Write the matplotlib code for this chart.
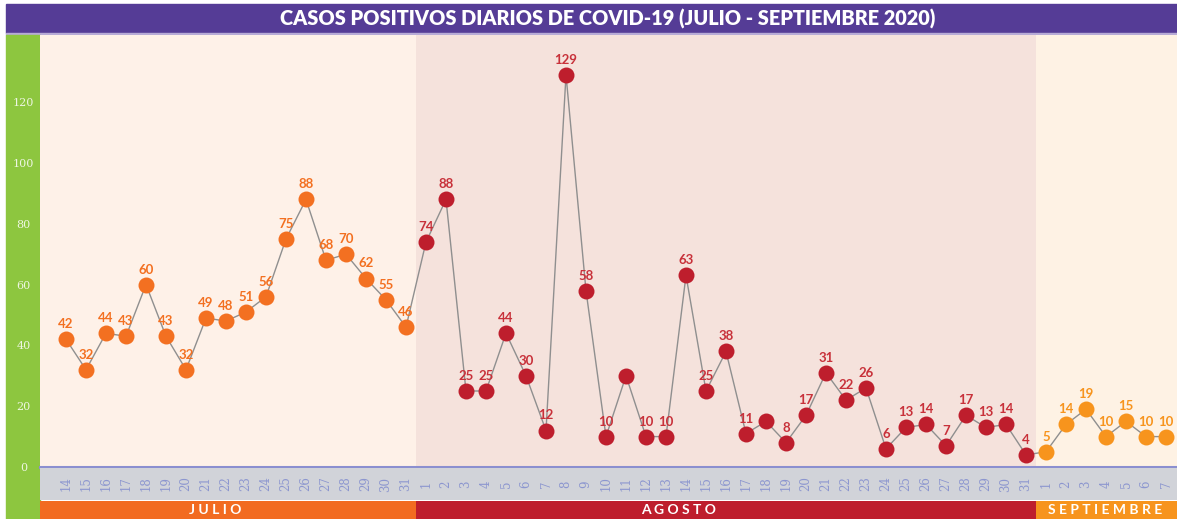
import matplotlib as mpl
from matplotlib import pyplot as plt
from matplotlib.patches import Rectangle

# daily positive cases
jul_days = list(range(14, 32))
jul_vals = [42, 32, 44, 43, 60, 43, 32, 49, 48, 51, 56, 75, 88, 68, 70, 62, 55, 46]
aug_days = list(range(1, 32))
aug_vals = [74, 88, 25, 25, 44, 30, 12, 129, 58, 10, 30, 10, 10, 63, 25, 38,
            11, 15, 8, 17, 31, 22, 26, 6, 13, 14, 7, 17, 13, 14, 4]
sep_days = list(range(1, 8))
sep_vals = [5, 14, 19, 10, 15, 10, 10]
# days in august drawn without a number
aug_unlabeled = [11, 18]

months = ['JULIO', 'AGOSTO', 'SEPTIEMBRE']
title = 'CASOS POSITIVOS DIARIOS DE COVID-19 (JULIO - SEPTIEMBRE 2020)'
yticks = [0, 20, 40, 60, 80, 100, 120]

# colours
c_title = '#553C96'
c_green = '#8DC63F'
c_gray = '#D1D3D9'
c_tick = '#8C96CF'
c_axis = '#8B8FD0'
c_line = '#8F8F8F'
pt_colors = ['#F37021', '#BE1E2D', '#F7941D']
lb_colors = ['#F37021', '#C8313A', '#F7941D']
bg_colors = ['#FEF1E8', '#F5E2DC', '#FEF2E4']
band_colors = ['#F26B21', '#BE1E2D', '#F7941D']

W, H = 1177, 519
dpi = 100

#####
# build positions
groups = [(jul_days, jul_vals), (aug_days, aug_vals), (sep_days, sep_vals)]
xs, ys, days, grp = [], [], [], []
i = 0
for g, (d, v) in enumerate(groups):
    for dd, vv in zip(d, v):
        xs.append(i)
        ys.append(vv)
        days.append(dd)
        grp.append(g)
        i += 1
n = len(xs)
bounds = [-1.3, len(jul_days) - 0.5, len(jul_days) + len(aug_days) - 0.5, n - 0.45]
# where the month names sit (the originals are not centred in their bands)
month_pos = [7.45, 30.65, 51.95]

fig = plt.figure(figsize=(W / dpi, H / dpi), dpi=dpi)
fig.patch.set_facecolor('white')

# title bar and green strip
fig.patches.append(Rectangle((6 / W, 1 - 33 / H), 1 - 6 / W, 29 / H,
                             transform=fig.transFigure, color=c_title, zorder=-1))
fig.patches.append(Rectangle((6 / W, 1 - 35 / H), 1 - 6 / W, 2 / H,
                             transform=fig.transFigure, color='#B7ABD6', zorder=-1))
fig.patches.append(Rectangle((6 / W, 0), 34 / W, 1 - 35 / H,
                             transform=fig.transFigure, color=c_green, zorder=-1))
fig.text(608 / W, 1 - 19 / H, title, color='white', fontsize=14.3,
         fontweight='heavy', family='Lato', ha='center', va='center')

# main axes
ax = fig.add_axes([40 / W, 1 - 467 / H, 1 - 40 / W, (467 - 35) / H])
ax.set_xlim(bounds[0], bounds[-1])
ax.set_ylim(0, 432 / 3.04)
for g in range(3):
    ax.axvspan(bounds[g], bounds[g + 1], color=bg_colors[g], lw=0, zorder=0)

ax.plot(xs, ys, color=c_line, lw=1, zorder=2)
for g in range(3):
    gx = [x for x, gg in zip(xs, grp) if gg == g]
    gy = [y for y, gg in zip(ys, grp) if gg == g]
    ax.plot(gx, gy, 'o', ms=11.5, color=pt_colors[g], mec='none', zorder=3)

for x, y, d, g in zip(xs, ys, days, grp):
    if g == 1 and d in aug_unlabeled:
        continue
    ax.annotate(str(y), (x, y), xytext=(0, 6.5), textcoords='offset points',
                ha='center', va='bottom', fontsize=9.5, fontweight='bold',
                family='Lato', color=lb_colors[g], zorder=4)

ax.set_xticks([])
ax.set_yticks(yticks)
ax.set_yticklabels([str(t) for t in yticks], family='DejaVu Serif',
                   fontsize=8, color='#EEF6E2', ha='center')
ax.tick_params(axis='y', length=0, pad=12)
for s in ['top', 'right', 'left']:
    ax.spines[s].set_visible(False)
ax.spines['bottom'].set_color(c_axis)
ax.spines['bottom'].set_linewidth(2.2)
ax.spines['bottom'].set_zorder(5)

# bottom bands: day numbers and month names
axb = fig.add_axes([40 / W, 0, 1 - 40 / W, 51 / H], sharex=ax)
axb.set_ylim(0, 51)
axb.axis('off')
axb.add_patch(Rectangle((bounds[0], 19), bounds[-1] - bounds[0], 32,
                        color=c_gray, lw=0))
for g in range(3):
    axb.add_patch(Rectangle((bounds[g], 0), bounds[g + 1] - bounds[g], 18,
                            color=band_colors[g], lw=0))
    axb.text(month_pos[g], 8.5, ' '.join(months[g]),
             color='white', fontsize=10, fontweight='bold', family='Lato',
             ha='center', va='center')
for x, d in zip(xs, days):
    axb.text(x, 35, str(d), rotation=90, ha='center', va='center',
             fontsize=8.5, family='DejaVu Serif', color=c_tick)

plt.savefig('out.png', dpi=dpi)
plt.close()
